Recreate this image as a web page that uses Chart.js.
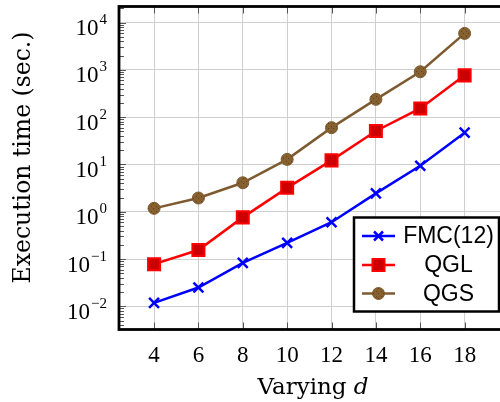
<!DOCTYPE html>
<html lang="en">
<head>
    <meta charset="UTF-8">
    <title>Execution time vs d</title>
    <script src="https://cdn.jsdelivr.net/npm/chart.js"></script>
    <style>
        body { margin: 0; overflow: hidden; background: #fff; }
        #wrap { width: 500px; height: 402px; overflow: hidden; }
    </style>
</head>
<body>
    <div id="wrap">
        <canvas id="timeChart" width="512" height="402"></canvas>
    </div>

    <script>
        // values
        var dValues = [4, 6, 8, 10, 12, 14, 16, 18];
        var fmcTimes = [0.0118, 0.025, 0.083, 0.22, 0.6, 2.45, 9.4, 47];
        var qglTimes = [0.078, 0.155, 0.76, 3.2, 12.2, 51, 153, 765];
        var qgsTimes = [1.18, 1.95, 4.1, 12.8, 60, 238, 912, 5900];
        var seriesNames = ['FMC(12)', 'QGL', 'QGS'];
        var yExponents = [-2, -1, 0, 1, 2, 3, 4];

        var BROWN = '#7d5a2f';

        function toPoints(ys) {
            return dValues.map(function (d, i) { return { x: d, y: ys[i] }; });
        }

        // dotted brown fill used for the QGS markers
        var pc = document.createElement('canvas');
        pc.width = 5; pc.height = 5;
        var pctx = pc.getContext('2d');
        pctx.fillStyle = '#86602f';
        pctx.fillRect(0, 0, 5, 5);
        pctx.fillStyle = '#5e4020';
        pctx.fillRect(1, 1, 1, 1);
        pctx.fillRect(3, 3, 1, 1);
        var brownPattern = document.getElementById('timeChart').getContext('2d').createPattern(pc, 'repeat');

        function supText(e) {
            return e < 0 ? '\u2212' + (-e) : String(e);
        }

        var decorations = {
            id: 'decorations',
            afterDraw: function (chart) {
                var ctx = chart.ctx;
                var area = chart.chartArea;
                var ys = chart.scales.y;
                var xs = chart.scales.x;
                ctx.save();

                // minor / major ticks inside the frame
                ctx.strokeStyle = '#555';
                ctx.lineWidth = 1;
                for (var e = -3; e <= 4; e++) {
                    for (var k = 1; k <= 9; k++) {
                        var v = k * Math.pow(10, e);
                        if (v < ys.min || v > ys.max) continue;
                        var py = Math.round(ys.getPixelForValue(v)) + 0.5;
                        var len = k === 1 ? 7 : 5;
                        ctx.beginPath();
                        ctx.moveTo(area.left, py);
                        ctx.lineTo(area.left + len, py);
                        ctx.stroke();
                    }
                }
                dValues.forEach(function (d) {
                    var px = Math.round(xs.getPixelForValue(d)) + 0.5;
                    ctx.beginPath();
                    ctx.moveTo(px, area.top);
                    ctx.lineTo(px, area.top + 7);
                    ctx.moveTo(px, area.bottom);
                    ctx.lineTo(px, area.bottom - 7);
                    ctx.stroke();
                });

                // frame
                ctx.strokeStyle = '#000';
                ctx.lineWidth = 2.8;
                ctx.strokeRect(area.left, area.top, area.right - area.left, area.bottom - area.top);

                // y tick labels 10^e
                ctx.fillStyle = '#000';
                ctx.textBaseline = 'alphabetic';
                ctx.textAlign = 'left';
                yExponents.forEach(function (e) {
                    var py = ys.getPixelForValue(Math.pow(10, e));
                    ctx.font = '15px "Liberation Serif"';
                    var s = supText(e);
                    var ws = ctx.measureText(s).width;
                    ctx.font = '23px "Liberation Serif"';
                    var wb = ctx.measureText('10').width;
                    var right = area.left - 12;
                    ctx.fillText('10', right - ws - wb - 1, py + 12.5);
                    ctx.font = '15px "Liberation Serif"';
                    ctx.fillText(s, right - ws, py + 1.5);
                });

                // y axis title
                ctx.save();
                ctx.translate(24, 157.5);
                ctx.rotate(-Math.PI / 2);
                ctx.font = '23.5px "DejaVu Serif"';
                ctx.textAlign = 'center';
                ctx.textBaseline = 'middle';
                ctx.fillText('Execution time (sec.)', 0, 0);
                ctx.restore();

                // x axis title: "Varying" + italic d
                ctx.font = '23px "DejaVu Serif"';
                var w1 = ctx.measureText('Varying ').width;
                ctx.font = 'italic 23px "DejaVu Serif"';
                var w2 = ctx.measureText('d').width;
                var startX = 313 - (w1 + w2) / 2;
                ctx.textAlign = 'left';
                ctx.textBaseline = 'alphabetic';
                ctx.font = '23px "DejaVu Serif"';
                ctx.fillText('Varying ', startX, 394);
                ctx.font = 'italic 23px "DejaVu Serif"';
                ctx.fillText('d', startX + w1, 394);

                // legend box
                var bx = 354, by = 217.5, bw = 145, bh = 94;
                ctx.fillStyle = '#fff';
                ctx.fillRect(bx, by, bw, bh);
                ctx.strokeStyle = '#000';
                ctx.lineWidth = 2.5;
                ctx.strokeRect(bx, by, bw, bh);

                var rows = [236, 265, 293.5];
                chart.data.datasets.forEach(function (ds, i) {
                    var ry = rows[i];
                    ctx.strokeStyle = ds.borderColor;
                    ctx.lineWidth = ds.borderWidth;
                    ctx.beginPath();
                    ctx.moveTo(362, ry);
                    ctx.lineTo(395, ry);
                    ctx.stroke();
                    var mx = 378.5;
                    if (i === 0) {
                        ctx.lineWidth = 2.5;
                        ctx.beginPath();
                        ctx.moveTo(mx - 4.5, ry - 4.5); ctx.lineTo(mx + 4.5, ry + 4.5);
                        ctx.moveTo(mx - 4.5, ry + 4.5); ctx.lineTo(mx + 4.5, ry - 4.5);
                        ctx.stroke();
                    } else if (i === 1) {
                        ctx.fillStyle = '#cc0000';
                        ctx.fillRect(mx - 6, ry - 6, 12, 12);
                        ctx.lineWidth = 2;
                        ctx.strokeStyle = '#ff0000';
                        ctx.strokeRect(mx - 6, ry - 6, 12, 12);
                    } else {
                        ctx.fillStyle = brownPattern;
                        ctx.beginPath();
                        ctx.arc(mx, ry, 6, 0, Math.PI * 2);
                        ctx.fill();
                        ctx.lineWidth = 1;
                        ctx.strokeStyle = BROWN;
                        ctx.stroke();
                    }
                    ctx.fillStyle = '#000';
                    ctx.font = '23px "Liberation Sans"';
                    ctx.textAlign = 'center';
                    ctx.textBaseline = 'middle';
                    ctx.fillText(seriesNames[i], 448.5, ry + 1);
                });

                ctx.restore();
            }
        };

        var ctx = document.getElementById('timeChart').getContext('2d');
        var timeChart = new Chart(ctx, {
            type: 'line',
            data: {
                datasets: [{
                    label: seriesNames[0],
                    data: toPoints(fmcTimes),
                    borderColor: '#0000ff',
                    borderWidth: 2.5,
                    pointStyle: 'crossRot',
                    pointRadius: 7,
                    pointBorderWidth: 2.5,
                    pointBorderColor: '#0000ff',
                    tension: 0
                }, {
                    label: seriesNames[1],
                    data: toPoints(qglTimes),
                    borderColor: '#ff0000',
                    borderWidth: 2.5,
                    pointStyle: 'rect',
                    pointRadius: 8.5,
                    pointBorderWidth: 2,
                    pointBorderColor: '#ff0000',
                    pointBackgroundColor: '#cc0000',
                    tension: 0
                }, {
                    label: seriesNames[2],
                    data: toPoints(qgsTimes),
                    borderColor: BROWN,
                    borderWidth: 2.5,
                    pointStyle: 'circle',
                    pointRadius: 6,
                    pointBorderWidth: 1,
                    pointBorderColor: BROWN,
                    pointBackgroundColor: brownPattern,
                    tension: 0
                }]
            },
            options: {
                responsive: false,
                animation: false,
                layout: { autoPadding: false, padding: { top: 6.5, right: 3, left: 0, bottom: 0 } },
                plugins: {
                    legend: { display: false },
                    tooltip: { enabled: false }
                },
                scales: {
                    x: {
                        type: 'linear',
                        min: 2.42,
                        max: 20,
                        afterBuildTicks: function (s) {
                            s.ticks = dValues.map(function (v) { return { value: v }; });
                        },
                        afterFit: function (s) { s.height = 72.5; },
                        grid: { color: '#cfcfcf', lineWidth: 1, drawTicks: false },
                        border: { display: false },
                        ticks: {
                            color: '#000',
                            padding: 13,
                            maxRotation: 0,
                            font: { family: 'Liberation Serif', size: 23 }
                        }
                    },
                    y: {
                        type: 'logarithmic',
                        min: Math.pow(10, -2.49),
                        max: Math.pow(10, 4.34),
                        afterBuildTicks: function (s) {
                            s.ticks = yExponents.map(function (e) { return { value: Math.pow(10, e) }; });
                        },
                        afterFit: function (s) { s.width = 119; },
                        grid: { color: '#cfcfcf', lineWidth: 1, drawTicks: false },
                        border: { display: false },
                        ticks: { display: false }
                    }
                }
            },
            plugins: [decorations]
        });
    </script>
</body>
</html>
